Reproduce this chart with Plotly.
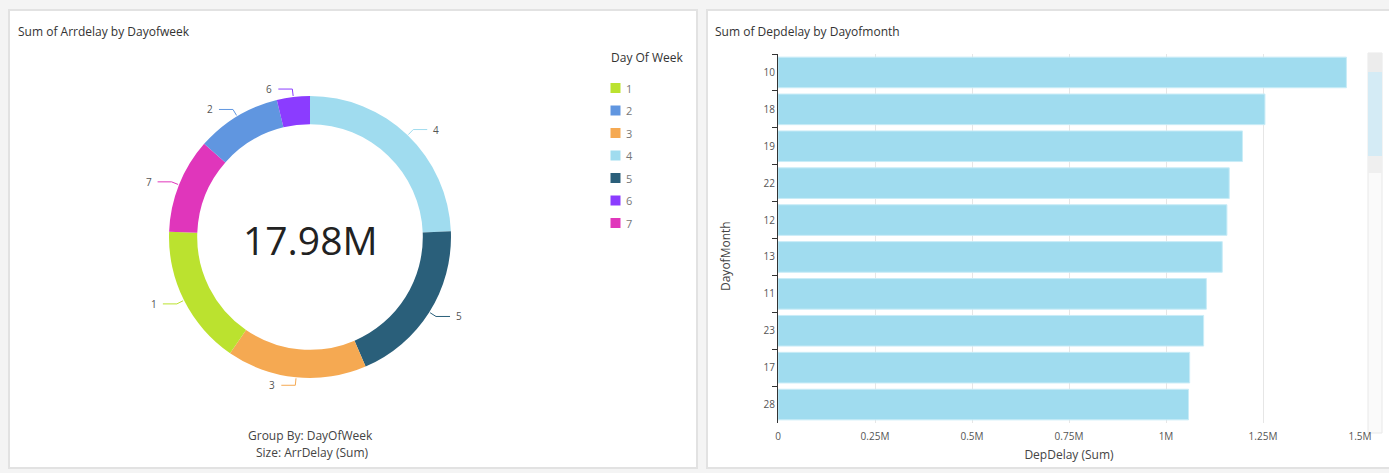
import math
import plotly.graph_objects as go

W, H = 1389, 473

# ---------------- data ----------------
dow_labels = ["4", "5", "3", "1", "7", "2", "6"]
dow_values = [4.38e6, 3.45e6, 2.885e6, 2.875e6, 1.96e6, 1.75e6, 0.68e6]
dow_colors = {"1": "#bbe22f", "2": "#6096e0", "3": "#f5a952", "4": "#a0dcef",
              "5": "#2a5f7a", "6": "#8b3cff", "7": "#e036bb"}
legend_order = ["1", "2", "3", "4", "5", "6", "7"]
legend_title = "Day Of Week"
total_label = "17.98M"

dom_days = ["10", "18", "19", "22", "12", "13", "11", "23", "17", "28"]
dep_delay = [1.465e6, 1.255e6, 1.197e6, 1.163e6, 1.157e6, 1.145e6, 1.104e6, 1.097e6, 1.061e6, 1.058e6]
x_tickvals = [0, 0.25e6, 0.5e6, 0.75e6, 1e6, 1.25e6, 1.5e6]
x_ticktext = ["0", "0.25M", "0.5M", "0.75M", "1M", "1.25M", "1.5M"]

FONT = "Open Sans"

def px(x):
    return x / W

def py(y):
    return 1 - y / H

fig = go.Figure()

# ---------------- donut ----------------
cx, cy, R = 310, 237, 141
fig.add_trace(go.Pie(
    labels=dow_labels, values=dow_values, sort=False, direction="clockwise", rotation=0,
    hole=0.8, marker=dict(colors=[dow_colors[l] for l in dow_labels], line=dict(width=0)),
    textinfo="none", hoverinfo="label+value", showlegend=False,
    domain=dict(x=[px(cx - R), px(cx + R)], y=[py(cy + R), py(cy - R)]),
))

annotations = []

# legend drawn manually (swatch + label)
leg_x, leg_y0, leg_dy = 615.5, 88, 22.5
fig.add_trace(go.Scatter(
    x=[leg_x] * len(legend_order), y=[leg_y0 + i * leg_dy for i in range(len(legend_order))],
    mode="markers", xaxis="x2", yaxis="y2", showlegend=False, hoverinfo="skip",
    marker=dict(symbol="square", size=10, color=[dow_colors[l] for l in legend_order], line=dict(width=0)),
))
for i, l in enumerate(legend_order):
    annotations.append(dict(
        x=leg_x + 8, y=leg_y0 + i * leg_dy, xref="x2", yref="y2", text=l, showarrow=False,
        xanchor="left", yanchor="middle", font=dict(family=FONT, size=11, color="#777"),
    ))
annotations.append(dict(
    x=609, y=57, xref="x2", yref="y2", text=legend_title, showarrow=False,
    xanchor="left", yanchor="middle", font=dict(family=FONT, size=12, color="#333"),
))

# leader lines + labels computed from the slice angles
tot = sum(dow_values)
acc = 0.0
for lab, v in zip(dow_labels, dow_values):
    th = 2 * math.pi * (acc + v / 2) / tot
    acc += v
    s, c = math.sin(th), math.cos(th)
    side = 1 if s >= 0 else -1
    x0, y0 = cx + (R + 1) * s, cy - (R + 1) * c
    x1, y1 = cx + (R + 8) * s, cy - (R + 8) * c
    x2 = x1 + side * 14
    fig.add_trace(go.Scatter(
        x=[x0, x1, x2], y=[y0, y1, y1], mode="lines", xaxis="x2", yaxis="y2",
        line=dict(color=dow_colors[lab], width=1), hoverinfo="skip", showlegend=False,
    ))
    annotations.append(dict(
        x=x2 + side * 4, y=y1, xref="x2", yref="y2", text=lab, showarrow=False,
        xanchor="left" if side > 0 else "right", yanchor="middle",
        font=dict(family=FONT, size=10, color="#555"),
    ))

# ---------------- bar chart ----------------
fig.add_trace(go.Bar(
    y=dom_days, x=dep_delay, orientation="h", xaxis="x", yaxis="y",
    marker=dict(color="#a0dcef", line=dict(color="#c9ecf7", width=1)),
    showlegend=False, hoverinfo="x+y",
))

# ---------------- text ----------------
annotations += [
    dict(x=px(16), y=py(32), xref="paper", yref="paper", text="Sum of Arrdelay by Dayofweek",
         showarrow=False, xanchor="left", yanchor="middle", font=dict(family=FONT, size=12, color="#333")),
    dict(x=px(713), y=py(32), xref="paper", yref="paper", text="Sum of Depdelay by Dayofmonth",
         showarrow=False, xanchor="left", yanchor="middle", font=dict(family=FONT, size=12, color="#333")),
    dict(x=cx, y=cy + 2, xref="x2", yref="y2", text=total_label, showarrow=False,
         xanchor="center", yanchor="middle", font=dict(family=FONT, size=39, color="#222")),
    dict(x=px(310), y=py(435), xref="paper", yref="paper", text="Group By: DayOfWeek",
         showarrow=False, xanchor="center", yanchor="middle", font=dict(family=FONT, size=12, color="#444")),
    dict(x=px(312), y=py(452), xref="paper", yref="paper", text="Size: ArrDelay (Sum)",
         showarrow=False, xanchor="center", yanchor="middle", font=dict(family=FONT, size=12, color="#444")),
    dict(x=px(725), y=py(256), xref="paper", yref="paper", text="DayofMonth", textangle=-90,
         showarrow=False, xanchor="center", yanchor="middle", font=dict(family=FONT, size=12, color="#444")),
]

# ---------------- panels / scrollbar decorations ----------------
def rect(x0, y0, x1, y1, fill, line="rgba(0,0,0,0)", lw=0):
    return dict(type="rect", xref="paper", yref="paper", x0=px(x0), x1=px(x1), y0=py(y1), y1=py(y0),
                fillcolor=fill, line=dict(color=line, width=lw), layer="below")

shapes = [
    rect(9, 10, 697, 468, "white", "#e2e2e2", 2),
    rect(707, 10, 1400, 468, "white", "#e2e2e2", 2),
    rect(1368, 53, 1382, 433, "#fafafa", "#e8e8e8", 1),
    rect(1368, 53, 1382, 72, "#ececec"),
    rect(1368, 72, 1382, 156, "#d4ebf5"),
    rect(1368, 156, 1382, 173, "#efefef"),
]

fig.update_layout(
    width=W, height=H, margin=dict(l=0, r=0, t=0, b=0, autoexpand=False),
    paper_bgcolor="#f4f4f4", plot_bgcolor="rgba(0,0,0,0)",
    font=dict(family=FONT, color="#444"),
    showlegend=False,
    xaxis=dict(
        domain=[px(778), px(1360)], range=[0, 1.5e6], tickvals=x_tickvals, ticktext=x_ticktext,
        showgrid=True, gridcolor="#e6e6e6", gridwidth=1, zeroline=False, showline=False,
        ticks="", tickfont=dict(family=FONT, size=10, color="#555"), ticklabelstandoff=6,
        title=dict(text="DepDelay (Sum)", font=dict(family=FONT, size=12, color="#444"), standoff=8),
        anchor="y", fixedrange=True, automargin=False,
    ),
    yaxis=dict(
        domain=[py(423), py(54)], autorange="reversed", type="category",
        showgrid=False, zeroline=False, showline=True, linecolor="#333", linewidth=1,
        ticks="outside", tickson="boundaries", ticklen=5, tickcolor="#333",
        tickfont=dict(family=FONT, size=10, color="#555"),
        anchor="x", fixedrange=True, automargin=False,
    ),
    xaxis2=dict(domain=[0, 1], range=[0, W], visible=False, fixedrange=True, anchor="y2", automargin=False),
    yaxis2=dict(domain=[0, 1], range=[H, 0], visible=False, fixedrange=True, anchor="x2", automargin=False),
    bargap=0.17,
    annotations=annotations,
    shapes=shapes,
)

fig.write_html("out.html")
